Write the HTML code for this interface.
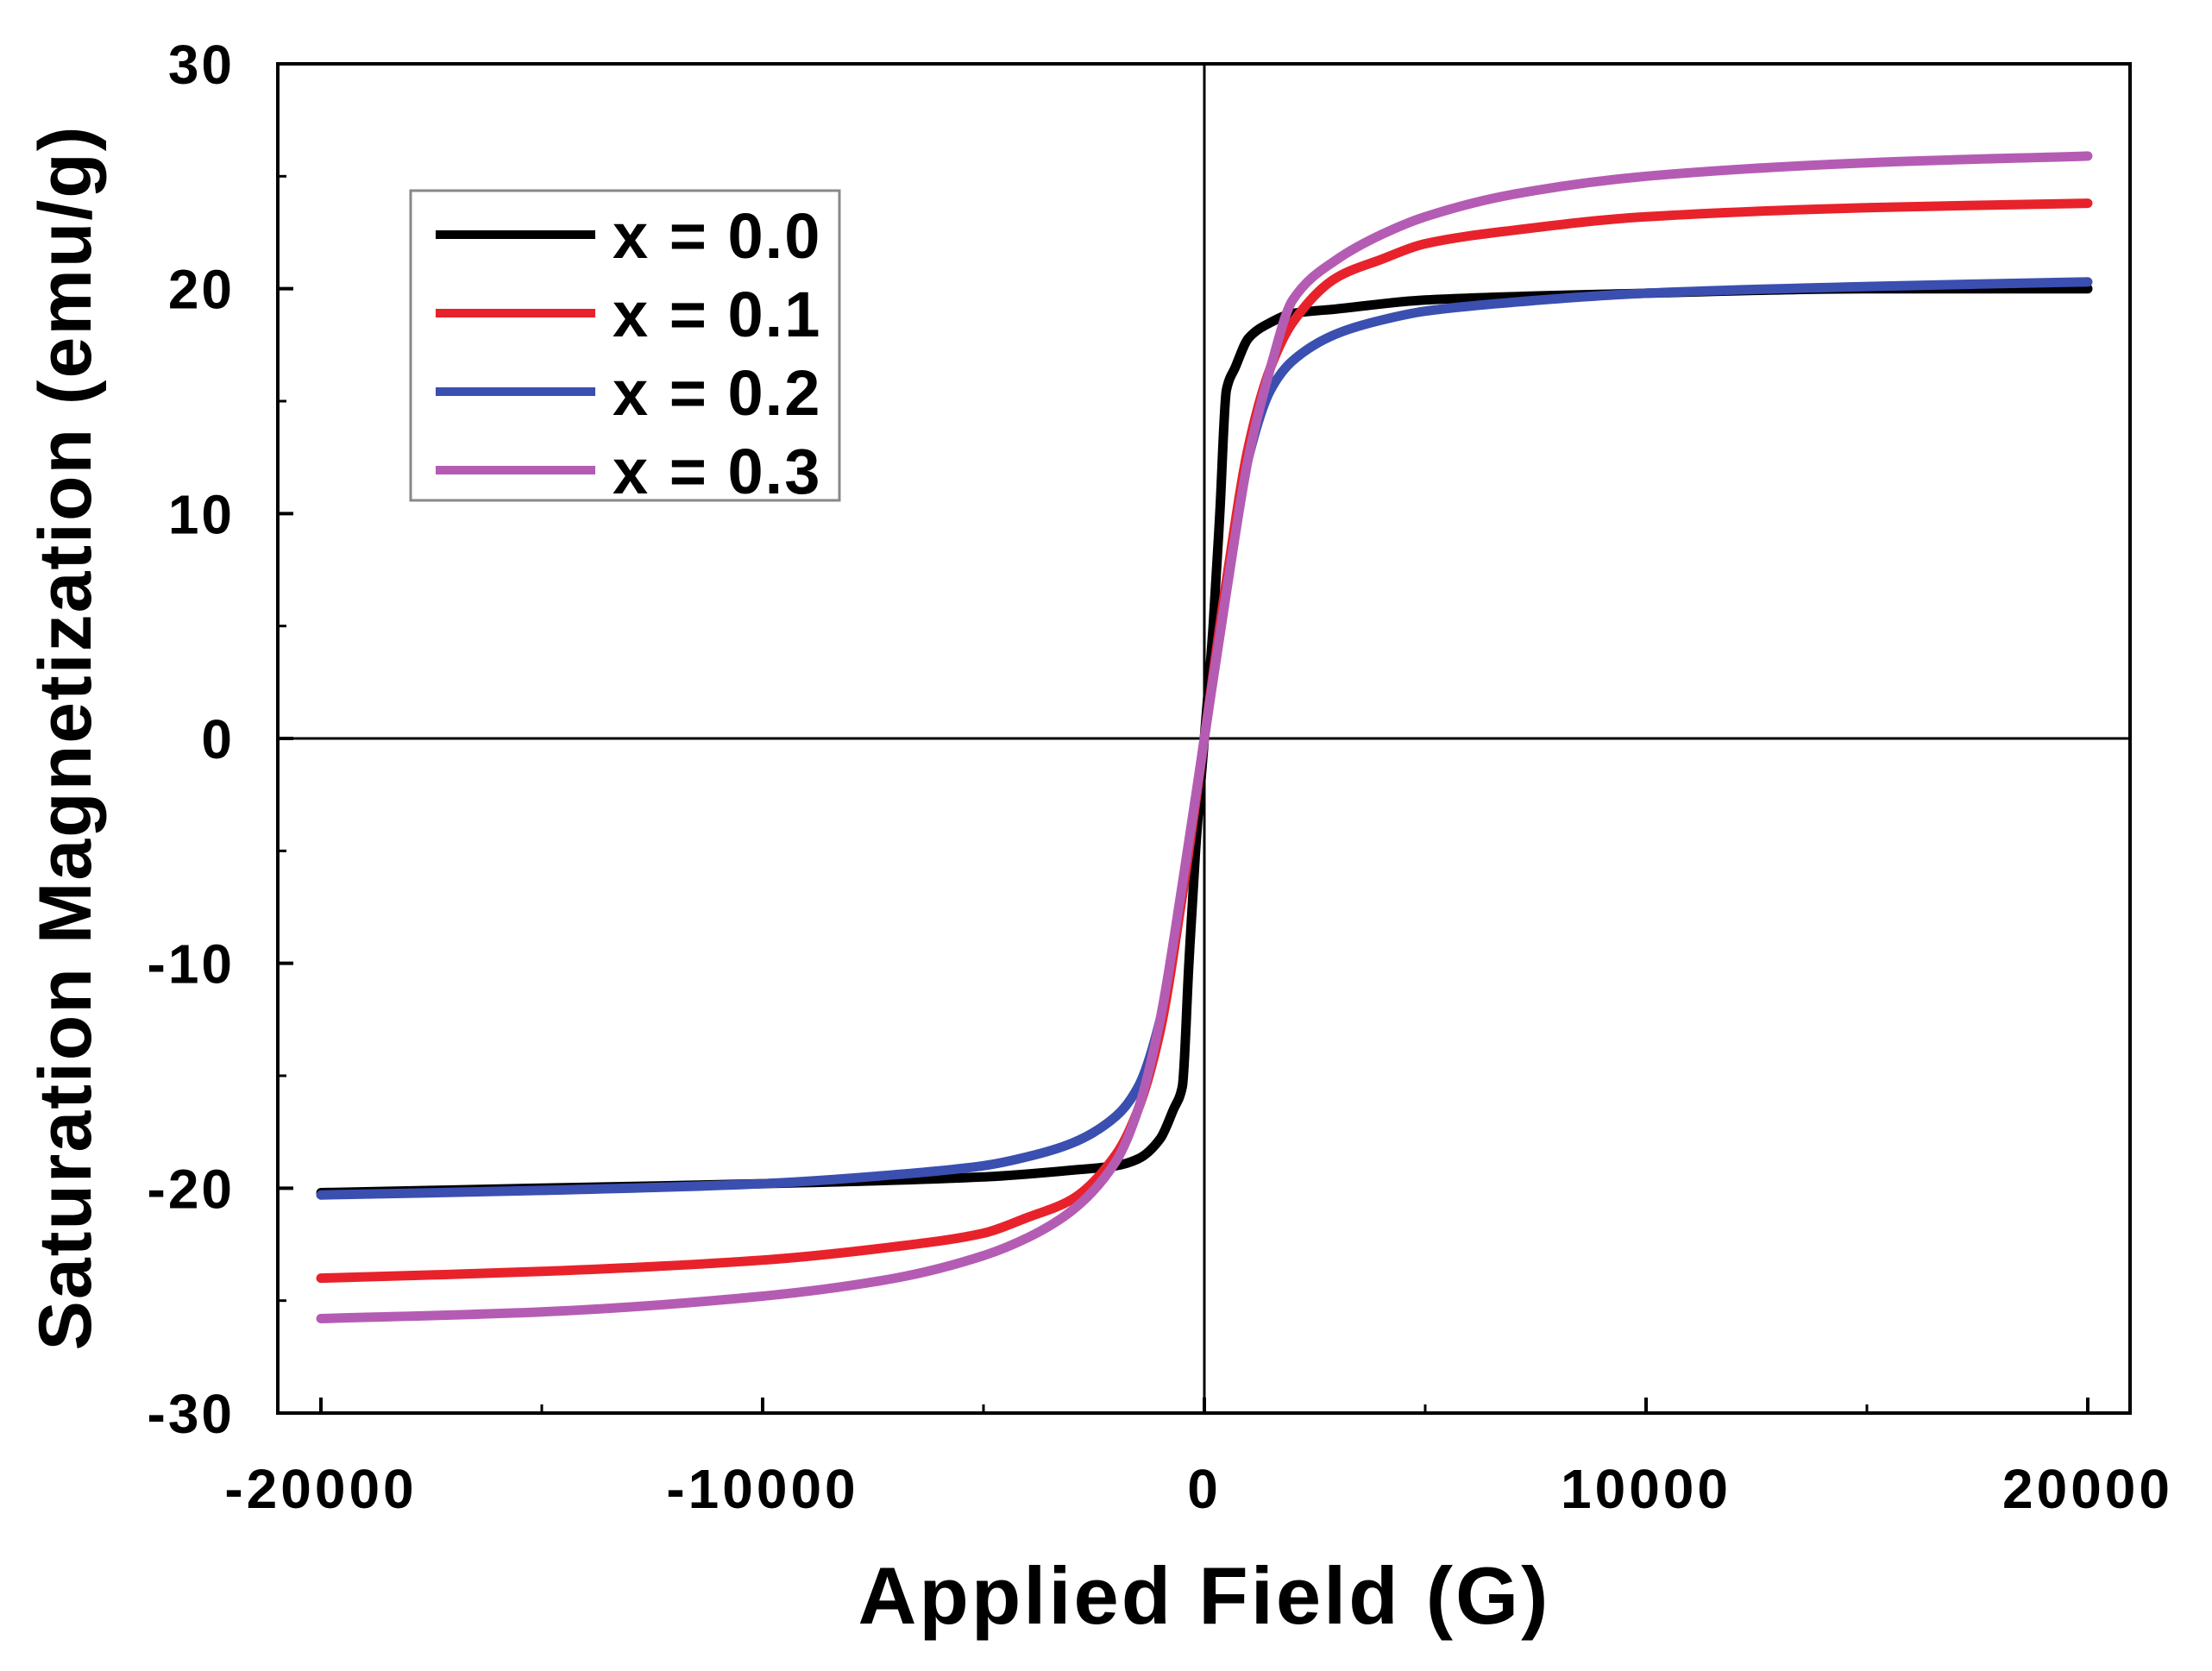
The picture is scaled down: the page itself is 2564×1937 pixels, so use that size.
<!DOCTYPE html>
<html><head><meta charset="utf-8"><style>
html,body{margin:0;padding:0;background:#fff;}
svg{display:block;font-family:"Liberation Sans",Arial,sans-serif;font-weight:bold;}
</style></head><body>
<svg id="chart" width="2564" height="1937" viewBox="0 0 2564 1937" xmlns="http://www.w3.org/2000/svg">
<g id="axes"></g><g id="series"></g><g id="legend"></g>
</svg>
<script>
const xTicks=[-20000,-10000,0,10000,20000];
const yTicks=[-30,-20,-10,0,10,20,30];
const seriesNames=["x = 0.0","x = 0.1","x = 0.2","x = 0.3"];
const seriesColors=["#000000","#e8222b","#3a4fb0","#b45cb4"];
const fieldBlack=[-20000,-15000,-10000,-5000,-3000,-2000,-1500,-1000,-700,-500,-350,-200,0,200,350,500,700,1000,1500,2000,3000,5000,10000,15000,20000];
const magBlack=[-20.2,-20.0,-19.8,-19.5,-19.2,-19.0,-18.7,-17.8,-16.5,-15.5,-10,-5,0,5,10,15.5,16.5,17.8,18.5,18.9,19.1,19.5,19.8,20.0,20.0];
const fieldRed=[-20000,-15000,-10000,-7000,-5000,-4000,-3000,-2000,-1500,-1000,-500,0,500,1000,1500,2000,3000,4000,5000,7000,10000,15000,20000];
const magRed=[-24.0,-23.7,-23.2,-22.6,-22.0,-21.3,-20.5,-18.5,-16.5,-13,-7,0,7,13,16.5,18.5,20.5,21.3,22.0,22.6,23.2,23.6,23.8];
const fieldBlue=[-20000,-15000,-10000,-7000,-5000,-4000,-3000,-2000,-1500,-1000,-500,0,500,1000,1500,2000,3000,4000,5000,7000,10000,15000,20000];
const magBlue=[-20.3,-20.1,-19.8,-19.4,-19.0,-18.6,-18.0,-16.8,-15.5,-12.5,-7,0,7,12.5,15.5,16.8,18.0,18.6,19.0,19.4,19.8,20.1,20.3];
const fieldMag=[-20000,-15000,-10000,-7000,-5000,-4000,-3000,-2000,-1500,-1000,-500,0,500,1000,1500,2000,3000,4000,5000,7000,10000,15000,20000];
const magMag=[-25.8,-25.5,-24.8,-24.0,-23.0,-22.2,-21.0,-18.8,-16.5,-12.5,-6.5,0,6.5,12.5,16.5,19.5,21.3,22.4,23.2,24.2,25.0,25.6,25.9];
const allX=[fieldBlack,fieldRed,fieldBlue,fieldMag];
const allY=[magBlack,magRed,magBlue,magMag];

const NS="http://www.w3.org/2000/svg";
const L=322,R=2469,T=74,B=1638;
const sx=v=>1396+(v/20000)*(2420-1396);
const sy=v=>T+(30-v)/60*(B-T);
function mk(tag,attrs,parent){const e=document.createElementNS(NS,tag);for(const k in attrs)e.setAttribute(k,attrs[k]);parent.appendChild(e);return e;}
const axes=document.getElementById('axes'),ser=document.getElementById('series'),leg=document.getElementById('legend');

let frame=mk('rect',{x:L,y:T,width:R-L,height:B-T,fill:'none',stroke:'#000','stroke-width':4},axes);


let zx=mk('line',{x1:sx(0),x2:sx(0),y1:T,y2:B,stroke:'#000','stroke-width':3},axes);


let zy=mk('line',{x1:L,x2:R,y1:sy(0),y2:sy(0),stroke:'#000','stroke-width':3},axes);



xTicks.forEach((v,i)=>{
  mk('line',{x1:sx(v),x2:sx(v),y1:B,y2:B-18,stroke:'#000','stroke-width':4},axes);
  if(i<xTicks.length-1){const m=(v+xTicks[i+1])/2;mk('line',{x1:sx(m),x2:sx(m),y1:B,y2:B-10,stroke:'#000','stroke-width':3},axes);}
  const t=mk('text',{x:sx(v),y:1748,'text-anchor':'middle','font-size':64,'letter-spacing':4},axes);t.textContent=v;
  
  
});
yTicks.forEach((v,i)=>{
  mk('line',{x1:L,x2:L+18,y1:sy(v),y2:sy(v),stroke:'#000','stroke-width':4},axes);
  if(i<yTicks.length-1){const m=(v+yTicks[i+1])/2;mk('line',{x1:L,x2:L+10,y1:sy(m),y2:sy(m),stroke:'#000','stroke-width':3},axes);}
  const t=mk('text',{x:272,y:sy(v)+23,'text-anchor':'end','font-size':64,'letter-spacing':3},axes);t.textContent=v;
  
  
});
let xt=mk('text',{x:1396,y:1882,'text-anchor':'middle','font-size':94,'letter-spacing':3},axes);xt.textContent='Applied Field (G)';


let yt=mk('text',{x:0,y:0,'text-anchor':'middle','font-size':86,'letter-spacing':2,transform:'translate(105,855) rotate(-90)'},axes);yt.textContent='Saturation Magnetization (emu/g)';



function monoPath(px,py){
  const n=px.length,d=[],m=new Array(n);
  for(let i=0;i<n-1;i++)d.push((py[i+1]-py[i])/(px[i+1]-px[i]));
  m[0]=d[0];m[n-1]=d[n-2];
  for(let i=1;i<n-1;i++){
    if(d[i-1]*d[i]<=0)m[i]=0;
    else{const h0=px[i]-px[i-1],h1=px[i+1]-px[i];const w1=2*h1+h0,w2=h1+2*h0;m[i]=(w1+w2)/(w1/d[i-1]+w2/d[i]);}
  }
  let s='M'+px[0].toFixed(1)+','+py[0].toFixed(1);
  for(let i=0;i<n-1;i++){
    const h=px[i+1]-px[i];
    s+=' C'+(px[i]+h/3).toFixed(1)+','+(py[i]+m[i]*h/3).toFixed(1)+' '+(px[i+1]-h/3).toFixed(1)+','+(py[i+1]-m[i+1]*h/3).toFixed(1)+' '+px[i+1].toFixed(1)+','+py[i+1].toFixed(1);
  }
  return s;
}
const order=[0,2,1,3];
order.forEach(i=>{
  const px=allX[i].map(sx),py=allY[i].map(sy);
  const p=mk('path',{d:monoPath(px,py),fill:'none',stroke:seriesColors[i],'stroke-width':11,'stroke-linejoin':'round','stroke-linecap':'round'},ser);
  
  
});

let lb=mk('rect',{x:476,y:221,width:497,height:359,fill:'#fff',stroke:'#888','stroke-width':3},leg);


seriesNames.forEach((n,i)=>{
  const y=272+i*91;
  const g=mk('g',{},leg);
  
  
  mk('line',{x1:505,x2:690,y1:y,y2:y,stroke:seriesColors[i],'stroke-width':10},g);
  const t=mk('text',{x:710,y:y+27,'font-size':74,'letter-spacing':2},g);t.textContent=n;
});
</script>
</body></html>
